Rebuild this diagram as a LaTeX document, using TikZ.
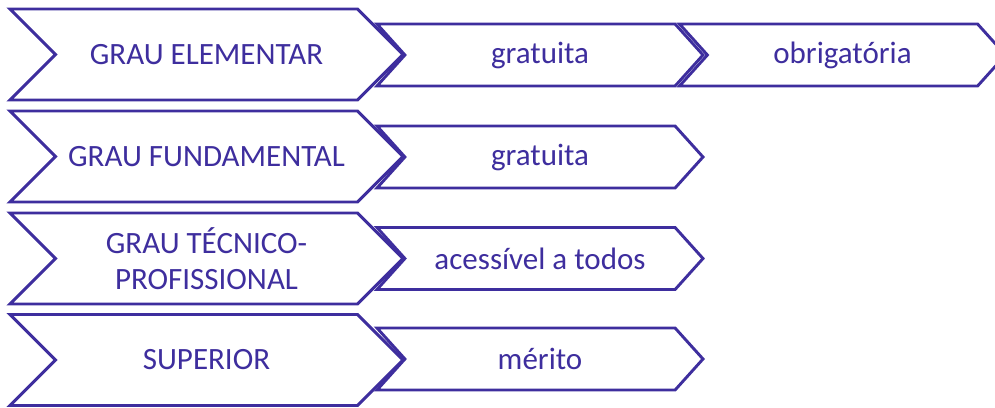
\documentclass[tikz,border=0pt]{standalone}
\usepackage{fontspec}
\setmainfont{Carlito}
\usetikzlibrary{shapes.symbols}
\definecolor{roxo}{RGB}{62,46,158}

\begin{document}
\begin{tikzpicture}[x=1pt,y=-1pt]
    \tikzset{grau/.style = {shape=signal, signal from=west, signal to=east, signal pointer angle=90, draw=roxo, fill=white, line width=2.9pt, text=roxo, minimum width=393pt, minimum height=91pt, inner sep=0pt, outer sep=0pt, align=center, font=\fontsize{31}{36}\selectfont}}
    \tikzset{passo/.style = {grau, signal pointer angle=96, minimum width=326pt, minimum height=62pt}}

    \useasboundingbox (0,0) rectangle (995,407);

    % graus
    \node[grau] (elem) at (206.5,54.5) {GRAU ELEMENTAR};
    \node[grau] (fund) at (206.5,156.5) {GRAU FUNDAMENTAL};
    \node[grau] (tec) at (206.5,258.5) {GRAU TÉCNICO-\\PROFISSIONAL};
    \node[grau] (sup) at (206.5,360) {SUPERIOR};

    % atributos
    \node[passo] (elemgrat) at (540,55) {gratuita};
    \node[passo] (elemobr) at (842.5,55) {obrigatória};
    \node[passo] (fundgrat) at (540,157) {gratuita};
    \node[passo] (tecace) at (540,258.5) {acessível a todos};
    \node[passo] (supmer) at (540,359) {mérito};
\end{tikzpicture}
\end{document}
